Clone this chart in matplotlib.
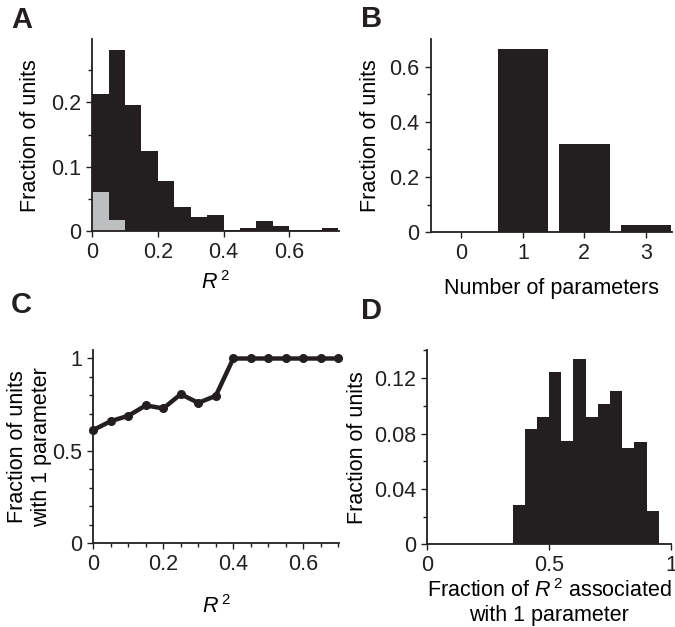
import numpy as np
import matplotlib
matplotlib.use("Agg")
import matplotlib.pyplot as plt
from matplotlib.ticker import MultipleLocator

plt.rcParams["font.family"] = ["Liberation Sans", "DejaVu Sans"]
plt.rcParams["mathtext.fontset"] = "custom"
plt.rcParams["mathtext.rm"] = "Liberation Sans"
plt.rcParams["mathtext.it"] = "Liberation Sans:italic"
plt.rcParams["font.size"] = 15.5

# Panel A: histogram of R^2 (bin width 0.05)
a_edges = np.arange(0, 0.75, 0.05)
a_all = [0.213, 0.282, 0.196, 0.124, 0.077, 0.037, 0.022, 0.025,
         0.001, 0.004, 0.015, 0.008, 0.001, 0.001, 0.004]
a_gray = [0.060, 0.017]

# Panel B: number of parameters
b_params = [0, 1, 2, 3]
b_frac = [0.0, 0.663, 0.319, 0.025]

# Panel C: fraction with 1 parameter vs R^2 threshold
c_r2 = [0, 0.05, 0.1, 0.15, 0.2, 0.25, 0.3, 0.35,
        0.4, 0.45, 0.5, 0.55, 0.6, 0.65, 0.7]
c_frac = [0.613, 0.661, 0.690, 0.746, 0.730, 0.807, 0.760, 0.798,
          1.0, 1.0, 1.0, 1.0, 1.0, 1.0, 1.0]

# Panel D: fraction of R^2 associated with 1 parameter
d_edges = np.arange(0.35, 0.95, 0.05)
d_frac = [0.0284, 0.0831, 0.0923, 0.1243, 0.0747, 0.1337,
          0.0923, 0.1014, 0.1104, 0.0694, 0.0742, 0.0241]

BLACK = "#231f20"
GRAY = "#bcbec0"


def style(ax):
    for s in ["top", "right"]:
        ax.spines[s].set_visible(False)
    for s in ["left", "bottom"]:
        ax.spines[s].set_linewidth(1.3)
        ax.spines[s].set_color(BLACK)
    ax.tick_params(which="both", direction="out", width=1.0, pad=4, colors=BLACK)
    ax.tick_params(which="major", length=4)
    ax.tick_params(which="minor", length=3)


fig = plt.figure(figsize=(6.75, 6.27), dpi=100)

# A
axA = fig.add_axes([0.1367, 0.6316, 0.366, 0.3057])
axA.bar(a_edges, a_all, width=0.05, align="edge", color=BLACK, linewidth=0)
axA.bar(a_edges[:len(a_gray)], a_gray, width=0.05, align="edge", color=GRAY, linewidth=0)
axA.set_xlim(0, 0.753)
axA.set_ylim(0, 0.298)
axA.set_xticks([0, 0.2, 0.4, 0.6])
axA.set_xticklabels(["0", "0.2", "0.4", "0.6"])
axA.set_yticks([0, 0.1, 0.2])
axA.set_yticklabels(["0", "0.1", "0.2"])
axA.yaxis.set_minor_locator(MultipleLocator(0.05))
axA.set_ylabel("Fraction of units", labelpad=7)
axA.set_xlabel("$R^{\\,2}$", labelpad=6)
style(axA)

# B
axB = fig.add_axes([0.638, 0.6295, 0.357, 0.3078])
axB.bar(b_params, b_frac, width=0.82, color=BLACK, linewidth=0)
axB.set_xlim(-0.5, 3.42)
axB.set_ylim(0, 0.699)
axB.set_xticks(b_params)
axB.set_yticks([0, 0.2, 0.4, 0.6])
axB.set_yticklabels(["0", "0.2", "0.4", "0.6"])
axB.yaxis.set_minor_locator(MultipleLocator(0.1))
axB.set_ylabel("Fraction of units", labelpad=6)
axB.set_xlabel("Number of parameters", labelpad=10)
style(axB)

# C
axC = fig.add_axes([0.1382, 0.1335, 0.3645, 0.308])
axC.plot(c_r2, c_frac, color=BLACK, linewidth=3.2, marker="o", markersize=5.5,
         clip_on=False, zorder=3)
axC.set_xlim(0, 0.703)
axC.set_ylim(0, 1.045)
axC.set_xticks([0, 0.2, 0.4, 0.6])
axC.set_xticklabels(["0", "0.2", "0.4", "0.6"])
axC.xaxis.set_minor_locator(MultipleLocator(0.05))
axC.set_yticks([0, 0.5, 1])
axC.set_yticklabels(["0", "0.5", "1"])
axC.yaxis.set_minor_locator(MultipleLocator(0.1))
axC.set_ylabel("Fraction of units\nwith 1 parameter", labelpad=0)
axC.set_xlabel("$R^{\\,2}$", labelpad=14)
style(axC)

# D
axD = fig.add_axes([0.633, 0.132, 0.361, 0.309])
axD.bar(d_edges, d_frac, width=0.05, align="edge", color=BLACK, linewidth=0)
axD.set_xlim(0, 1)
axD.set_ylim(0, 0.14)
axD.set_xticks([0, 0.5, 1])
axD.set_xticklabels(["0", "0.5", "1"])
axD.set_yticks([0, 0.04, 0.08, 0.12])
axD.set_yticklabels(["0", "0.04", "0.08", "0.12"])
axD.yaxis.set_minor_locator(MultipleLocator(0.02))
axD.set_ylabel("Fraction of units", labelpad=4)
axD.set_xlabel("Fraction of $R^{\\,2}$ associated\nwith 1 parameter", labelpad=2)
style(axD)

for lbl, (x, y) in zip("ABCD", [(11, 6), (361, 5), (11, 291), (361, 297)]):
    fig.text(x / 675, 1 - y / 627, lbl, fontsize=21, fontweight="bold",
             va="top", ha="left", color=BLACK)

fig.savefig("out.png", dpi=100)
